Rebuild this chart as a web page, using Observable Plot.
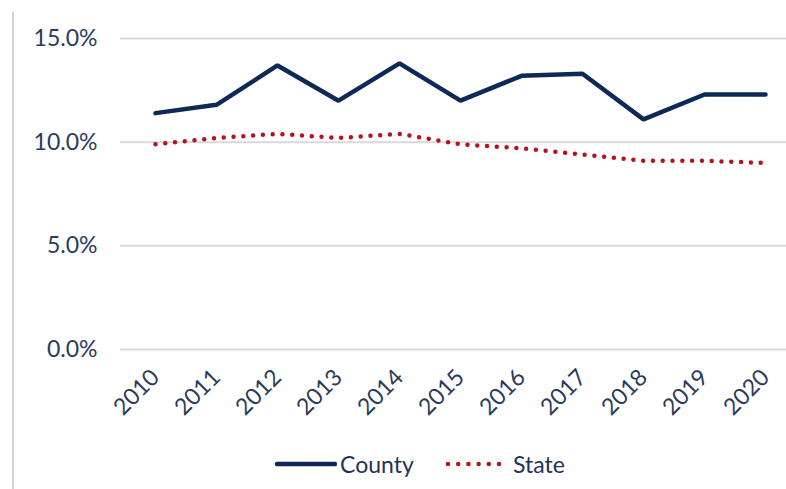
<!DOCTYPE html>
<html><head><meta charset="utf-8">
<script src="https://cdn.jsdelivr.net/npm/d3@7"></script>
<script src="https://cdn.jsdelivr.net/npm/@observablehq/plot@0.6"></script>
<style>
body{margin:0;background:#fff;font-family:Lato,"Open Sans",sans-serif;}
#wrap{position:relative;width:786px;height:489px;overflow:hidden;}
#edge{position:absolute;left:12px;top:12px;width:0;height:477px;border-left:2px solid #d4d4d4;}
#legend{position:absolute;left:0;top:440px;width:786px;height:49px;font-size:23px;color:#1f3358;}
.item{position:absolute;top:10px;display:flex;align-items:center;}
</style></head>
<body><div id="wrap"><div id="edge"></div><div id="chart"></div>
<div id="legend">
 <div class="item" style="left:275px"><svg width="62" height="26"><line x1="2" x2="60" y1="13" y2="13" stroke="#0d2a57" stroke-width="4.5" stroke-linecap="round"/></svg><span style="margin-left:3px">County</span></div>
 <div class="item" style="left:445px"><svg width="60" height="26"><line x1="3" x2="57" y1="13" y2="13" stroke="#b5121b" stroke-width="4.5" stroke-linecap="round" stroke-dasharray="0 10.2"/></svg><span style="margin-left:8px">State</span></div>
</div></div>
<script>
const years = [2010,2011,2012,2013,2014,2015,2016,2017,2018,2019,2020];
const county = [11.4,11.8,13.7,12.0,13.8,12.0,13.2,13.3,11.1,12.3,12.3];
const state = [9.9,10.2,10.4,10.2,10.4,9.9,9.7,9.4,9.1,9.1,9.0];
const yTicks = [0,5,10,15];

const rows = years.flatMap((y,i)=>[
  {year:String(y), value:county[i], series:"County"},
  {year:String(y), value:state[i], series:"State"}
]);

const chart = Plot.plot({
  width:786, height:440,
  marginLeft:120, marginRight:0, marginTop:38, marginBottom:91,
  style:{fontFamily:"Lato, 'Open Sans', sans-serif", fontSize:"23px", color:"#2a3b5c", background:"transparent"},
  x:{type:"point", domain:years.map(String), range:[151,768], padding:0, label:null},
  y:{domain:[0,15], ticks:yTicks, label:null},
  marks:[
    Plot.ruleY(yTicks,{stroke:"#d9d9d9", strokeWidth:2, strokeOpacity:1}),
    Plot.axisY({ticks:yTicks, tickSize:0, tickPadding:23, tickFormat:d=>d.toFixed(1)+"%", label:null}),
    Plot.axisX({tickSize:0, tickPadding:24, tickRotate:-45, label:null}),
    Plot.line(rows.filter(d=>d.series==="State"),{x:"year", y:"value", stroke:"#b5121b", strokeWidth:4.5, strokeLinecap:"round", strokeDasharray:"0 9.8"}),
    Plot.line(rows.filter(d=>d.series==="County"),{x:"year", y:"value", stroke:"#0d2a57", strokeWidth:4.5, strokeLinejoin:"miter"})
  ]
});
document.getElementById("chart").appendChild(chart);
</script>
</body></html>
